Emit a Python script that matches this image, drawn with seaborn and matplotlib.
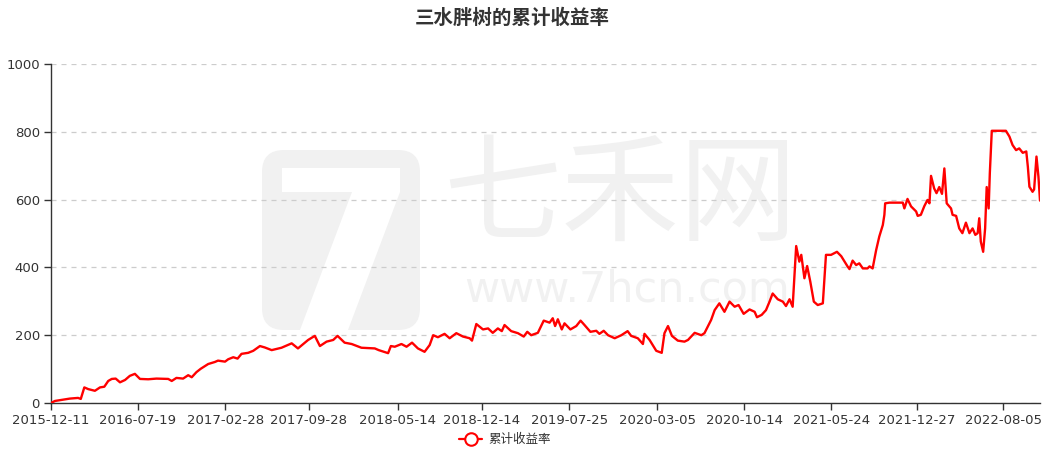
import matplotlib
matplotlib.use("Agg")
import matplotlib.pyplot as plt
from matplotlib.lines import Line2D
from matplotlib.patches import FancyBboxPatch, Polygon
import seaborn as sns
import pandas as pd

title = "三水胖树的累计收益率"
series_name = "累计收益率"

dates = [
    "2015-12-11", "2015-12-21", "2016-01-16", "2016-01-28", "2016-02-18", "2016-02-25",
    "2016-03-05", "2016-03-15", "2016-04-01", "2016-04-14", "2016-04-25", "2016-05-05",
    "2016-05-14", "2016-05-24", "2016-06-04", "2016-06-17", "2016-06-29", "2016-07-12",
    "2016-07-25", "2016-08-15", "2016-09-05", "2016-10-05", "2016-10-14", "2016-10-26",
    "2016-11-12", "2016-11-25", "2016-12-04", "2016-12-16", "2016-12-27", "2017-01-15",
    "2017-02-01", "2017-02-09", "2017-02-27", "2017-03-07", "2017-03-20", "2017-03-31",
    "2017-04-10", "2017-04-27", "2017-05-10", "2017-05-27", "2017-06-08", "2017-06-26",
    "2017-07-21", "2017-08-16", "2017-09-01", "2017-09-27", "2017-10-14", "2017-10-27",
    "2017-11-13", "2017-11-30", "2017-12-11", "2017-12-29", "2018-01-16", "2018-02-10",
    "2018-03-16", "2018-03-26", "2018-04-19", "2018-04-26", "2018-05-06", "2018-05-23",
    "2018-06-05", "2018-06-19", "2018-07-04", "2018-07-21", "2018-08-03", "2018-08-12",
    "2018-08-24", "2018-09-10", "2018-09-23", "2018-10-10", "2018-10-27", "2018-11-13",
    "2018-11-19", "2018-11-30", "2018-12-17", "2018-12-30", "2019-01-11", "2019-01-24",
    "2019-02-03", "2019-02-10", "2019-02-27", "2019-03-16", "2019-03-31", "2019-04-09",
    "2019-04-19", "2019-05-06", "2019-05-21", "2019-06-05", "2019-06-13", "2019-06-19",
    "2019-06-26", "2019-07-06", "2019-07-13", "2019-07-28", "2019-08-12", "2019-08-23",
    "2019-09-02", "2019-09-17", "2019-10-02", "2019-10-10", "2019-10-21", "2019-11-01",
    "2019-11-18", "2019-12-05", "2019-12-21", "2019-12-30", "2020-01-16", "2020-01-29",
    "2020-02-02", "2020-02-15", "2020-03-03", "2020-03-17", "2020-03-24", "2020-04-02",
    "2020-04-12", "2020-04-27", "2020-05-14", "2020-05-23", "2020-06-09", "2020-06-26",
    "2020-07-04", "2020-07-21", "2020-07-30", "2020-08-11", "2020-08-24", "2020-09-06",
    "2020-09-19", "2020-09-29", "2020-10-12", "2020-10-27", "2020-11-09", "2020-11-15",
    "2020-11-27", "2020-12-08", "2020-12-17", "2020-12-25", "2021-01-07", "2021-01-20",
    "2021-01-28", "2021-02-06", "2021-02-14", "2021-02-23", "2021-03-03", "2021-03-08",
    "2021-03-16", "2021-03-23", "2021-03-31", "2021-04-09", "2021-04-19", "2021-05-02",
    "2021-05-10", "2021-05-23", "2021-06-07", "2021-06-18", "2021-07-04", "2021-07-09",
    "2021-07-17", "2021-07-26", "2021-08-03", "2021-08-12", "2021-08-24", "2021-08-29",
    "2021-09-06", "2021-09-15", "2021-09-23", "2021-10-02", "2021-10-06", "2021-10-08",
    "2021-10-19", "2021-11-22", "2021-11-26", "2021-12-04", "2021-12-13", "2021-12-26",
    "2021-12-30", "2022-01-07", "2022-01-16", "2022-01-24", "2022-01-29", "2022-02-02",
    "2022-02-10", "2022-02-16", "2022-02-23", "2022-03-02", "2022-03-08", "2022-03-14",
    "2022-03-25", "2022-03-29", "2022-04-07", "2022-04-15", "2022-04-23", "2022-05-02",
    "2022-05-11", "2022-05-19", "2022-05-26", "2022-06-01", "2022-06-05", "2022-06-09",
    "2022-06-15", "2022-06-20", "2022-06-24", "2022-06-29", "2022-07-02", "2022-07-07",
    "2022-08-12", "2022-08-21", "2022-08-29", "2022-09-07", "2022-09-15", "2022-09-24",
    "2022-10-03", "2022-10-07", "2022-10-11", "2022-10-19", "2022-10-23", "2022-10-29",
    "2022-11-03", "2022-11-07",
]

returns = [
    0, 6, 11, 13, 15, 12,
    46, 41, 36, 46, 48, 65,
    71, 72, 61, 68, 80, 86,
    71, 70, 72, 71, 65, 74,
    72, 82, 76, 91, 101, 115,
    121, 125, 122, 129, 135, 131,
    145, 148, 154, 168, 164, 156,
    163, 176, 161, 186, 198, 168,
    181, 186, 198, 178, 174, 163,
    161, 156, 147, 168, 166, 174,
    166, 178, 161, 151, 171, 200,
    194, 204, 191, 206, 196, 191,
    184, 233, 217, 220, 207, 220,
    212, 230, 212, 206, 196, 210,
    200, 207, 243, 237, 250, 227,
    247, 217, 235, 217, 227, 243,
    230, 210, 213, 204, 213, 200,
    191, 200, 212, 198, 191, 174,
    204, 186, 154, 148, 206, 227,
    198, 184, 181, 186, 207, 200,
    206, 245, 274, 294, 269, 299,
    284, 289, 263, 276, 269, 253,
    260, 274, 299, 323, 306, 299,
    286, 306, 284, 463, 417, 437,
    368, 404, 358, 299, 289, 294,
    437, 437, 446, 433, 403, 395,
    420, 407, 412, 397, 397, 403,
    397, 451, 491, 525, 555, 589,
    591, 591, 574, 602, 580, 565,
    552, 555, 581, 599, 589, 670,
    633, 619, 637, 617, 692, 589,
    574, 555, 552, 515, 501, 532,
    501, 515, 496, 501, 545, 476,
    446, 515, 637, 574, 678, 803,
    803, 786, 761, 746, 751, 738,
    742, 697, 638, 623, 630, 727,
    668, 597,
]

tick_labels = ["2015-12-11", "2016-07-19", "2017-02-28", "2017-09-28", "2018-05-14",
               "2018-12-14", "2019-07-25", "2020-03-05", "2020-10-14", "2021-05-24",
               "2021-12-27", "2022-08-05"]
y_ticks = [0, 200, 400, 600, 800, 1000]

df = pd.DataFrame({"date": pd.to_datetime(dates), "value": returns})

sns.set_theme(style="white")
plt.rcParams["font.family"] = ["DejaVu Sans", "Noto Sans CJK SC"]

W, H = 1064, 453
fig = plt.figure(figsize=(W / 100, H / 100), dpi=100)

# background watermark layer (pixel coordinates)
bg = fig.add_axes([0, 0, 1, 1], zorder=0)
bg.set_xlim(0, W)
bg.set_ylim(H, 0)
bg.axis("off")
wm = "#f1f1f1"
bg.add_patch(FancyBboxPatch((262, 150), 158, 180,
                            boxstyle="round,pad=0,rounding_size=22",
                            facecolor=wm, edgecolor="none"))
bg.add_patch(Polygon([(282, 168), (400, 168), (400, 192), (348, 330), (300, 330),
                      (352, 192), (282, 192)], closed=True, facecolor="white",
                     edgecolor="none"))
bg.text(620, 198, "七禾网", fontsize=85, color=wm, family=["Noto Sans CJK SC"],
        ha="center", va="center")
bg.text(627, 290, "www.7hcn.com", fontsize=31, color=wm, family=["DejaVu Sans"],
        ha="center", va="center")

ax = fig.add_axes([51 / W, 1 - 403 / H, (1040 - 51) / W, (403 - 64) / H], zorder=1)
ax.patch.set_alpha(0)

sns.lineplot(data=df, x="date", y="value", ax=ax, color="#ff0000", linewidth=1.7,
             legend=False, zorder=3)

ax.set_xlim(pd.Timestamp("2015-12-11"), pd.Timestamp("2022-11-07"))
ax.set_ylim(0, 1000)
ax.set_yticks(y_ticks)
ax.set_xticks(pd.to_datetime(tick_labels))
ax.set_xticklabels(tick_labels)
ax.set_xlabel("")
ax.set_ylabel("")

ax.grid(axis="y", color="#cccccc", linestyle=(0, (4, 4)), linewidth=0.9)
ax.grid(axis="x", visible=False)
for s in ["top", "right"]:
    ax.spines[s].set_visible(False)
for s in ["left", "bottom"]:
    ax.spines[s].set_color("#333333")
    ax.spines[s].set_linewidth(1.0)
ax.tick_params(axis="both", which="major", length=5, width=1, color="#333333",
               labelcolor="#333333", labelsize=9.5, direction="out",
               left=True, bottom=True)
ax.tick_params(axis="x", pad=3)
ax.tick_params(axis="y", pad=3)

fig.text(512 / W, 1 - 18 / H, title, fontsize=14, fontweight="bold",
         color="#333333", family=["Noto Sans CJK SC"], ha="center", va="center")

handle = Line2D([0], [0], color="#ff0000", linewidth=1.6, marker="o", markersize=9,
                markerfacecolor="white", markeredgecolor="#ff0000", markeredgewidth=1.5)
leg = fig.legend([handle], [series_name], loc="center",
                 bbox_to_anchor=(505 / W, 1 - 440 / H), frameon=False,
                 prop={"family": "Noto Sans CJK SC", "size": 9}, handlelength=1.8,
                 handletextpad=0.5)
for t in leg.get_texts():
    t.set_color("#333333")

fig.savefig("out.png", dpi=100)
